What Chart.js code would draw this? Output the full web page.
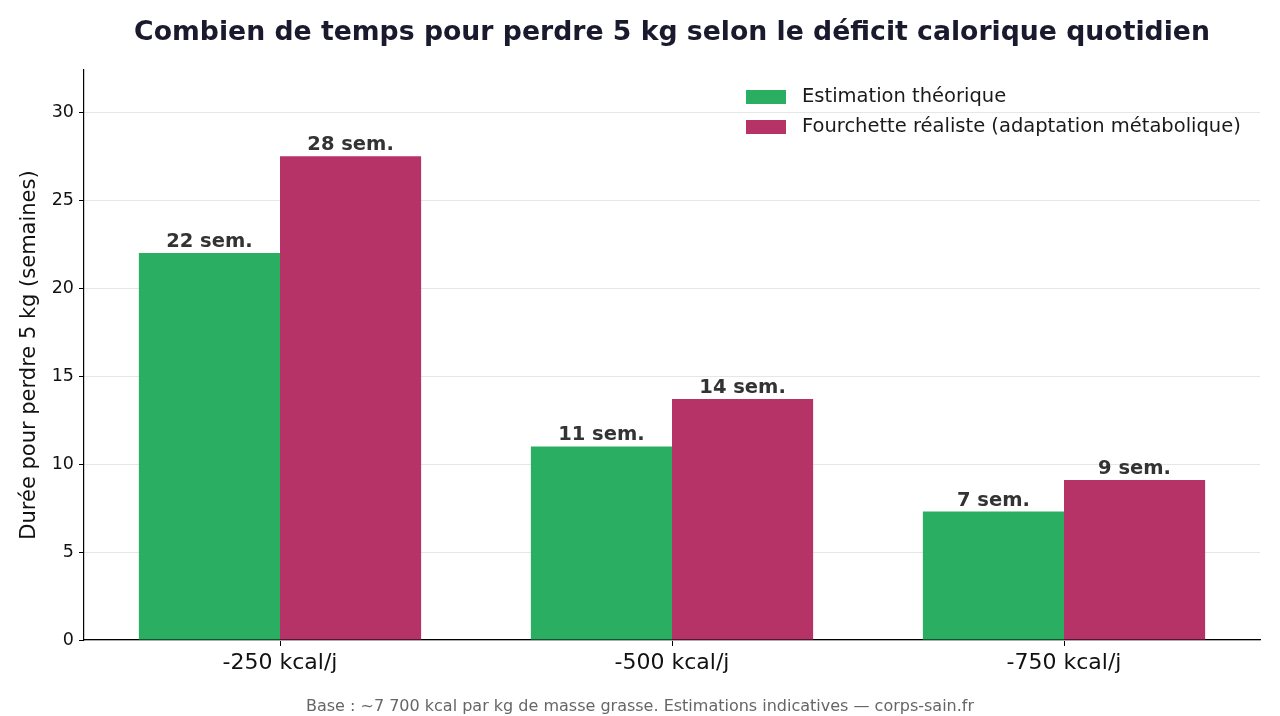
<!DOCTYPE html>
<html>
<head>
<meta charset="utf-8">
<script src="https://cdn.jsdelivr.net/npm/chart.js@4"></script>
<style>
html,body{margin:0;padding:0;background:#fff;}
#wrap{width:1280px;height:716px;position:relative;}
</style>
</head>
<body>
<div id="wrap"><canvas id="c" width="1280" height="716"></canvas></div>
<script>
const categories = ['-250 kcal/j', '-500 kcal/j', '-750 kcal/j'];
const theoretical = [22.0, 11.0, 7.3];
const realistic = [27.5, 13.7, 9.1];
const seriesNames = ['Estimation théorique', 'Fourchette réaliste (adaptation métabolique)'];
const yTicks = [0, 5, 10, 15, 20, 25, 30];
const titleText = 'Combien de temps pour perdre 5 kg selon le déficit calorique quotidien';
const yTitle = 'Durée pour perdre 5 kg (semaines)';
const footerText = 'Base : ~7 700 kcal par kg de masse grasse. Estimations indicatives — corps-sain.fr';

const FONT = "'DejaVu Sans', sans-serif";
const colors = ['rgba(38,172,94,0.98)', 'rgba(180,44,99,0.97)'];

const decor = {
  id: 'decor',
  afterDatasetsDraw(chart) {
    const ctx = chart.ctx;
    const ca = chart.chartArea;
    ctx.save();
    // title
    ctx.fillStyle = '#1a1a2e';
    ctx.font = "bold 26.7px " + FONT;
    ctx.textAlign = 'center';
    ctx.textBaseline = 'middle';
    ctx.fillText(titleText, (ca.left + ca.right) / 2, 33);
    // footer
    ctx.fillStyle = '#666666';
    ctx.font = "16px " + FONT;
    ctx.fillText(footerText, 640, 707);
    // value labels
    ctx.fillStyle = '#333333';
    ctx.font = "bold 19.5px " + FONT;
    ctx.textBaseline = 'alphabetic';
    chart.data.datasets.forEach((ds, di) => {
      const meta = chart.getDatasetMeta(di);
      meta.data.forEach((el, i) => {
        ctx.fillText(Math.round(ds.data[i]) + ' sem.', el.x, el.y - 6);
      });
    });
    // legend
    ctx.textAlign = 'left';
    ctx.textBaseline = 'middle';
    ctx.font = "19.5px " + FONT;
    chart.data.datasets.forEach((ds, di) => {
      const y = 97 + di * 30;
      ctx.fillStyle = ds.backgroundColor;
      ctx.fillRect(746, y - 7, 40, 14);
      ctx.fillStyle = '#1a1a1a';
      ctx.fillText(ds.label, 802, y);
    });
    ctx.restore();
  }
};

new Chart(document.getElementById('c'), {
  type: 'bar',
  data: {
    labels: categories,
    datasets: [
      { label: seriesNames[0], data: theoretical, backgroundColor: colors[0], borderWidth: 0, categoryPercentage: 0.72, barPercentage: 1.0 },
      { label: seriesNames[1], data: realistic, backgroundColor: colors[1], borderWidth: 0, categoryPercentage: 0.72, barPercentage: 1.0 }
    ]
  },
  options: {
    responsive: false,
    animation: false,
    devicePixelRatio: 1,
    layout: { padding: { left: 0, right: 20, top: 70, bottom: 0 } },
    plugins: { legend: { display: false }, title: { display: false }, tooltip: { enabled: false } },
    scales: {
      x: {
        offset: true,
        grid: { display: true, drawOnChartArea: false, drawTicks: true, tickLength: 6, color: '#000', offset: false },
        border: { display: true, color: '#000', width: 1.2 },
        ticks: { color: '#111', font: { family: FONT, size: 22 }, padding: 4, maxRotation: 0 },
        afterFit(s) { s.height = 76; }
      },
      y: {
        min: 0,
        max: 32.4,
        afterBuildTicks(s) { s.ticks = yTicks.map(v => ({ value: v })); },
        grid: { color: '#e6e6e6', lineWidth: 1, drawTicks: true, tickLength: 5, tickColor: '#000' },
        border: { display: true, color: '#000', width: 1.2 },
        ticks: { color: '#111', font: { family: FONT, size: 17.5 }, padding: 5 },
        title: { display: true, text: yTitle, color: '#111', font: { family: FONT, size: 21 }, padding: { top: 17, bottom: 0 } },
        afterFit(s) { s.width = 84; }
      }
    }
  },
  plugins: [decor]
});
</script>
</body>
</html>
